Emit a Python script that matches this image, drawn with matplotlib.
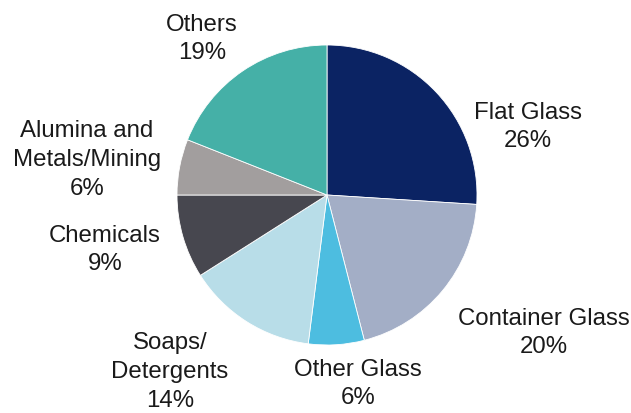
import matplotlib
matplotlib.use("Agg")
import matplotlib.pyplot as plt

categories = ["Flat Glass", "Container Glass", "Other Glass", "Soaps/\nDetergents",
              "Chemicals", "Alumina and\nMetals/Mining", "Others"]
values = [26, 20, 6, 14, 9, 6, 19]
colors = ["#0b2363", "#a3aec6", "#4dbde0", "#b8dde8", "#47474f", "#a29e9e", "#45b0a7"]

# label centres in pixel coordinates (x, y from top)
label_px = [(528, 127), (544, 333), (358, 384), (170, 372), (105, 250), (87, 160), (202, 39)]

W, H = 631, 413
fig = plt.figure(figsize=(W / 100, H / 100), dpi=100)
cx, cy, r = 327, 195, 150
ax = fig.add_axes([(cx - r) / W, (H - cy - r) / H, 2 * r / W, 2 * r / H])
ax.pie(values, colors=colors, startangle=90, counterclock=False, radius=1,
       wedgeprops=dict(edgecolor="white", linewidth=0.6))
ax.set_xlim(-1, 1)
ax.set_ylim(-1, 1)
ax.set_aspect("equal")
ax.axis("off")

for cat, v, (px, py) in zip(categories, values, label_px):
    fig.text(px / W, 1 - py / H, f"{cat}\n{v}%", ha="center", va="center",
             fontsize=17.3, family="Liberation Sans", color="#1a1a1a", linespacing=1.4)

fig.savefig("out.png", dpi=100, facecolor="white")
